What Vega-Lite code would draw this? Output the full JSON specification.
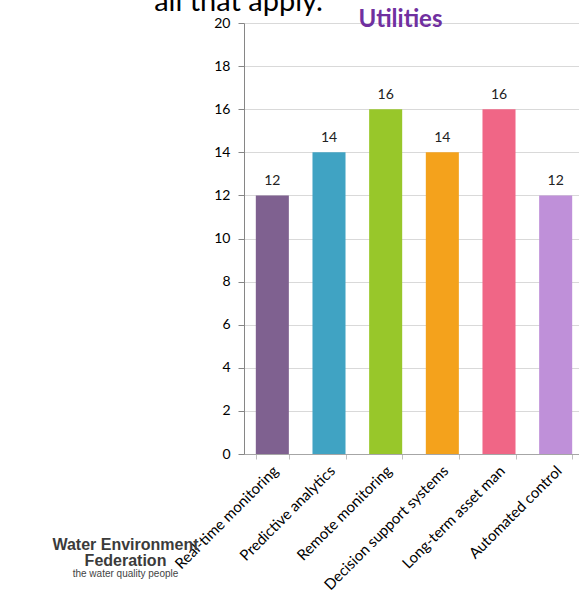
{
  "$schema": "https://vega.github.io/schema/vega-lite/v6.json",
  "width": 335,
  "height": 431,
  "autosize": "none",
  "padding": {"left": 244, "top": 23, "right": 0, "bottom": 138},
  "background": "white",
  "config": {"view": {"stroke": null}, "font": "Lato"},
  "title": {"text": "Utilities", "color": "#7030A0", "fontSize": 24, "fontWeight": "bold", "font": "Lato", "anchor": "middle", "dx": -11, "baseline": "alphabetic", "offset": -64},
  "data": {"values": [
    {"technology": "Real-time monitoring", "count": 12},
    {"technology": "Predictive analytics", "count": 14},
    {"technology": "Remote monitoring", "count": 16},
    {"technology": "Decision support systems", "count": 14},
    {"technology": "Long-term asset man", "count": 16},
    {"technology": "Automated control", "count": 12}
  ]},
  "encoding": {
    "y": {
      "field": "count", "type": "quantitative",
      "scale": {"domain": [0, 20], "nice": false},
      "axis": {
        "values": [0, 2, 4, 6, 8, 10, 12, 14, 16, 18, 20],
        "grid": true, "gridColor": "#d9d9d9",
        "domainColor": "#868686", "tickColor": "#868686", "tickSize": 6,
        "labelPadding": 8, "labelFontSize": 14, "labelColor": "#000", "labelFont": "Lato",
        "title": "all that apply.", "titleAngle": 0, "titleX": -6, "titleY": -13,
        "titleAlign": "center", "titleBaseline": "alphabetic", "titleFontSize": 29,
        "titleFontWeight": "normal", "titleFont": "Lato", "titleColor": "#000"
      }
    }
  },
  "layer": [
    {
      "mark": {"type": "bar"},
      "encoding": {
        "x": {
          "field": "technology", "type": "nominal", "sort": null,
          "scale": {"range": [0, 340], "paddingInner": 0.417, "paddingOuter": 0.2085},
          "axis": {
            "orient": "bottom",
            "title": ["Water Environment", "Federation"], "titleX": -119, "titleY": 95,
            "titleAlign": "center", "titleBaseline": "alphabetic", "titleFont": "Liberation Sans",
            "titleFontSize": 16, "titleFontWeight": "bold", "titleColor": "#3b3b3b", "titleLineHeight": 16,
            "labelAngle": -45, "labelFontSize": 15, "labelColor": "#000", "labelFont": "Lato",
            "labelPadding": 4, "labelOffset": -2, "labelLimit": 0,
            "tickBand": "extent", "tickSize": 5, "tickColor": "#bfbfbf",
            "domainColor": "#a6a6a6", "grid": false
          }
        },
        "color": {
          "field": "technology", "type": "nominal", "legend": null,
          "scale": {
            "domain": ["Real-time monitoring", "Predictive analytics", "Remote monitoring", "Decision support systems", "Long-term asset man", "Automated control"],
            "range": ["#7F6190", "#40A3C3", "#98C72A", "#F4A21C", "#F06686", "#BF90D9"]
          }
        }
      }
    },
    {
      "mark": {"type": "text", "dy": -10, "baseline": "alphabetic", "fontSize": 14, "color": "#222", "font": "Lato"},
      "encoding": {
        "x": {
          "field": "technology", "type": "nominal", "sort": null,
          "scale": {"range": [0, 340], "paddingInner": 0.417, "paddingOuter": 0.2085},
          "axis": {
            "orient": "bottom",
            "labels": false, "ticks": false, "domain": false, "grid": false,
            "title": "the water quality people", "titleX": -119, "titleY": 122,
            "titleAlign": "center", "titleBaseline": "alphabetic", "titleFontSize": 10,
            "titleFontWeight": "normal", "titleFont": "Liberation Sans", "titleColor": "#444"
          }
        },
        "text": {"field": "count", "type": "quantitative"}
      }
    }
  ],
  "resolve": {"scale": {"x": "independent"}}
}
